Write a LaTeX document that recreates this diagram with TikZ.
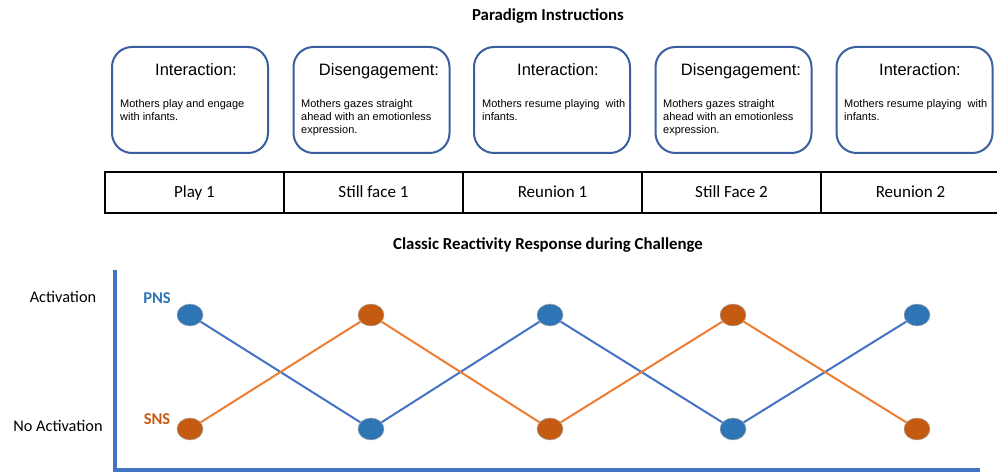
\documentclass[tikz,border=0pt]{standalone}
\usepackage{fontspec}
\setmainfont{Liberation Sans}
\newfontfamily\calfont{Carlito}
\usetikzlibrary{shapes.geometric}
\definecolor{boxblue}{HTML}{3A5F9E}
\definecolor{axisblue}{HTML}{4472C4}
\definecolor{pnsblue}{HTML}{2E75B6}
\definecolor{snsorange}{HTML}{C55A11}
\definecolor{lineorange}{HTML}{ED7D31}
\tikzset{
  phasebox/.style={draw=boxblue, line width=2bp, rounded corners=20bp, minimum width=156bp, minimum height=106bp, inner sep=0pt},
  phasehead/.style={anchor=base, inner sep=0pt, font=\fontsize{16.5bp}{18bp}\selectfont},
  phasebody/.style={anchor=north west, inner sep=0pt, align=left, font=\fontsize{11bp}{13bp}\selectfont},
  cell/.style={draw=black, line width=2bp, minimum width=179bp, minimum height=41bp, inner sep=0pt, text height=11bp, text depth=0bp, font=\calfont\fontsize{17bp}{19bp}\selectfont},
  ttl/.style={inner sep=0pt, font=\calfont\bfseries\fontsize{16.8bp}{19bp}\selectfont},
  tag/.style={inner sep=0pt, font=\calfont\bfseries\fontsize{16.5bp}{18bp}\selectfont},
  axlabel/.style={inner sep=0pt, font=\calfont\fontsize{16.3bp}{18bp}\selectfont},
  axis/.style={draw=axisblue, line width=3.5bp},
  pdot/.style={ellipse, fill=pnsblue, draw=gray!70, line width=0.5bp, minimum width=26bp, minimum height=22bp, inner sep=0pt},
  sdot/.style={ellipse, fill=snsorange, draw=gray!70, line width=0.5bp, minimum width=26bp, minimum height=22bp, inner sep=0pt},
  pline/.style={draw=axisblue, line width=2bp},
  sline/.style={draw=lineorange, line width=2bp}
}
\begin{document}
\begin{tikzpicture}[x=1bp,y=-1bp]
\useasboundingbox (0,0) rectangle (997,473);

% title
\node[ttl] (t1) at (548,16) {Paradigm Instructions};

% phase boxes
\node[phasebox] (b1) at (190,100) {};
\node[phasebox] (b2) at (371.5,100) {};
\node[phasebox] (b3) at (552,100) {};
\node[phasebox] (b4) at (733.5,100) {};
\node[phasebox] (b5) at (914.5,100) {};

\node[phasehead] (h1) at (196,76) {Interaction:};
\node[phasehead] (h2) at (379,76) {Disengagement:};
\node[phasehead] (h3) at (558,76) {Interaction:};
\node[phasehead] (h4) at (741,76) {Disengagement:};
\node[phasehead] (h5) at (920,76) {Interaction:};

\node[phasebody] (d1) at (120,99) {Mothers play and engage\\with infants.};
\node[phasebody] (d2) at (301,99) {Mothers gazes straight\\ahead with an emotionless\\expression.};
\node[phasebody] (d3) at (482,99) {Mothers resume playing\ \ with\\infants.};
\node[phasebody] (d4) at (663,99) {Mothers gazes straight\\ahead with an emotionless\\expression.};
\node[phasebody] (d5) at (844,99) {Mothers resume playing\ \ with\\infants.};

% table
\node[cell] (c1) at (194.5,192.5) {Play 1};
\node[cell] (c2) at (373.5,192.5) {Still face 1};
\node[cell] (c3) at (552.5,192.5) {Reunion 1};
\node[cell] (c4) at (731.5,192.5) {Still Face 2};
\node[cell] (c5) at (910.5,192.5) {Reunion 2};

% chart title
\node[ttl] (t2) at (548,245) {Classic Reactivity Response during Challenge};

% axes
\coordinate (ytop) at (115,270);
\coordinate (orig) at (115,470);
\coordinate (xend) at (980,470);
\draw[axis] (ytop) -- (orig) -- (xend);

\node[axlabel] (act) at (63,297) {Activation};
\node[axlabel] (noact) at (58,426) {No Activation};
\node[tag, text=pnsblue] (pns) at (157,298) {PNS};
\node[tag, text=snsorange] (sns) at (157,419) {SNS};

% dots
\node[pdot] (p1) at (190,315) {};
\node[pdot] (p2) at (371,429) {};
\node[pdot] (p3) at (550,315) {};
\node[pdot] (p4) at (733,429) {};
\node[pdot] (p5) at (917,315) {};
\node[sdot] (s1) at (190,429) {};
\node[sdot] (s2) at (371,315) {};
\node[sdot] (s3) at (550,429) {};
\node[sdot] (s4) at (733,315) {};
\node[sdot] (s5) at (917,429) {};

\draw[pline] (p1) -- (p2) -- (p3) -- (p4) -- (p5);
\draw[sline] (s1) -- (s2) -- (s3) -- (s4) -- (s5);
\end{tikzpicture}
\end{document}
